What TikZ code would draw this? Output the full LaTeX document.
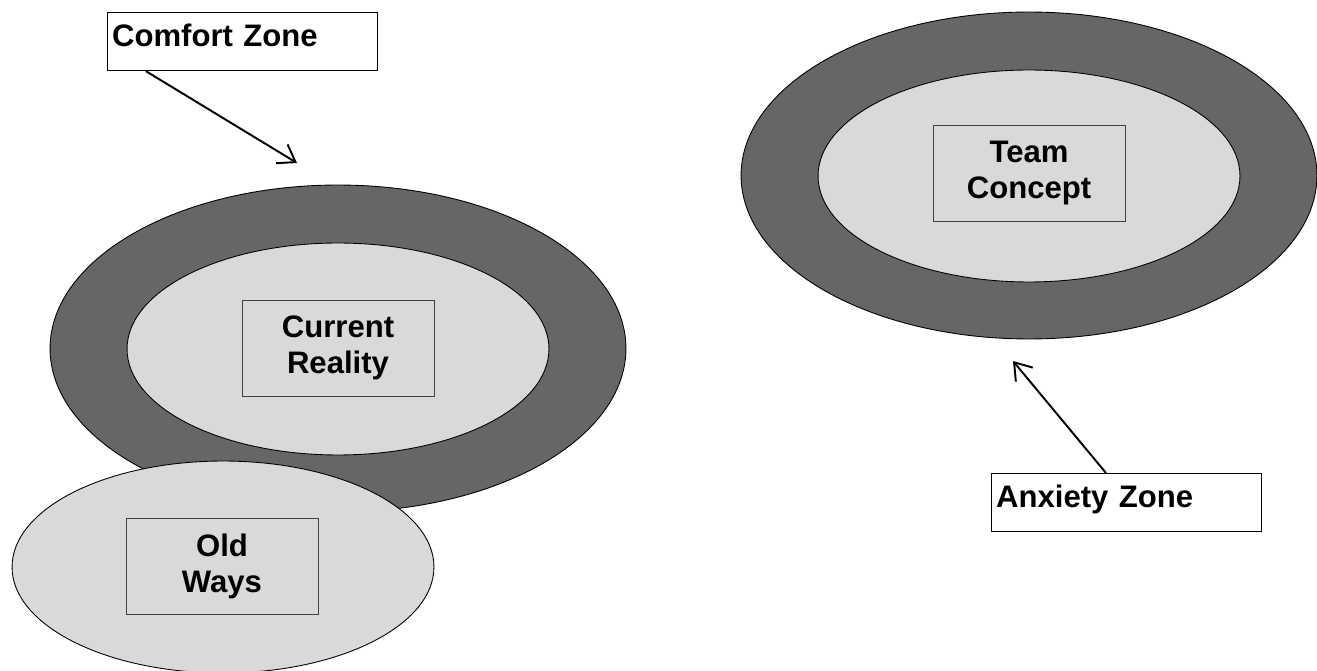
\documentclass[tikz,border=0pt]{standalone}
\usepackage{fontspec}
\setmainfont{Liberation Sans}
\usetikzlibrary{arrows.meta,shapes.geometric}
\definecolor{ringgray}{HTML}{666666}
\definecolor{coregray}{HTML}{D9D9D9}
\newcommand{\zonefont}{\bfseries\fontsize{17.7}{20.5}\selectfont}

\begin{document}
\begin{tikzpicture}[x=0.02cm, y=-0.02cm]
\tikzset{
  ring/.style={draw, ellipse, fill=ringgray, line width=0.5pt, inner sep=0pt, minimum width=11.52cm, minimum height=6.54cm},
  core/.style={draw, ellipse, fill=coregray, line width=0.5pt, inner sep=0pt, minimum width=8.44cm, minimum height=4.24cm},
  box/.style={draw=black!75, fill=coregray, line width=0.5pt, align=center, minimum width=3.84cm, minimum height=1.92cm, font=\zonefont},
  tag/.style={draw, fill=white, line width=0.7pt, anchor=north west, align=left, text width=5.22cm, inner xsep=0.09cm, inner ysep=0pt, text height=0.68cm, text depth=0.48cm, font=\zonefont},
  arr/.style={-{Straight Barb[length=3.2mm, width=4.4mm]}, line width=1.1pt}
}
\useasboundingbox (0,0) rectangle (1317,671);

% comfort side
\node[ring] (leftRing) at (338,348.5) {};
\node[core] (leftCore) at (338,349) {};
\node[core] (oldCore) at (223,567) {};
\node[box] (current) at (338,348) {Current\\Reality};
\node[box] (old) at (222,566) {Old\\Ways};

% anxiety side
\node[ring] (rightRing) at (1029,175.5) {};
\node[core] (rightCore) at (1029,176) {};
\node[box] (team) at (1029,173) {Team\\Concept};

\node[tag] (comfort) at (107,12) {Comfort Zone};
\node[tag] (anxiety) at (991,473) {Anxiety Zone};

\coordinate (comfortTip) at (297,163);
\coordinate (anxietyTip) at (1013,361);
\draw[arr] ([xshift=0.78cm]comfort.south west) -- (comfortTip);
\draw[arr] ([xshift=2.3cm]anxiety.north west) -- (anxietyTip);
\end{tikzpicture}
\end{document}
